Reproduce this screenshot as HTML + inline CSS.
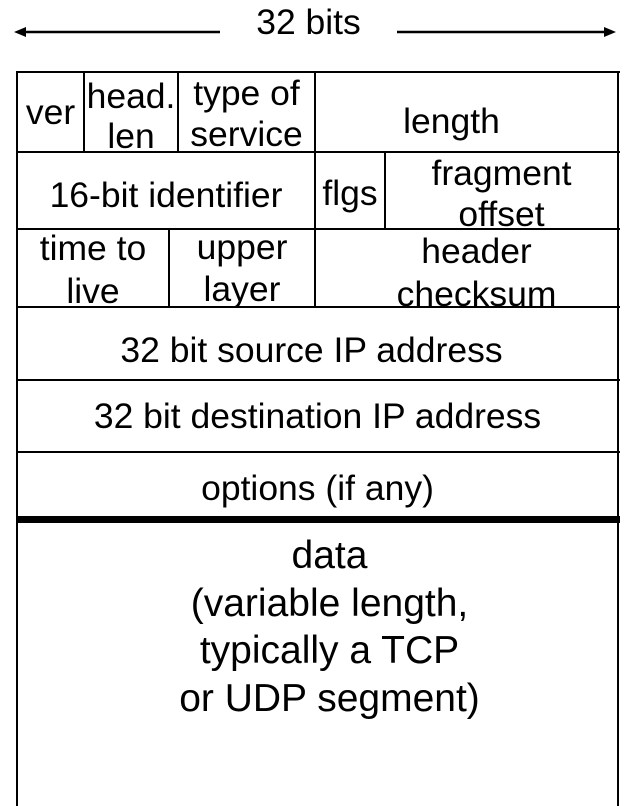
<!DOCTYPE html>
<html><head><style>
body{margin:0;background:#fff;}
#c{position:relative;width:640px;height:806px;overflow:hidden;font-family:"Liberation Sans",Arial,sans-serif;color:#000;}
.h{position:absolute;height:2px;background:#000;}
.v{position:absolute;width:2px;background:#000;}
.t{position:absolute;font-size:35.5px;line-height:42px;text-align:center;white-space:nowrap;overflow:hidden;}
</style></head><body><div id="c">
<svg width="640" height="60" style="position:absolute;left:0;top:0">
<line x1="18" y1="32" x2="220" y2="32" stroke="#000" stroke-width="2.5"/>
<polygon points="14,32 26,27 26,37" fill="#000"/>
<line x1="397" y1="32" x2="610" y2="32" stroke="#000" stroke-width="2.5"/>
<polygon points="616,32 604,27 604,37" fill="#000"/>
</svg>
<div class="t" style="left:210px;width:197px;top:1px">32 bits</div>
<div class="h" style="left:16px;width:604px;top:71px"></div>
<div class="v" style="left:16px;top:71px;height:735px"></div>
<div class="v" style="left:617px;top:71px;height:735px"></div>
<div class="h" style="left:16px;width:604px;top:151px"></div>
<div class="h" style="left:16px;width:604px;top:228px"></div>
<div class="h" style="left:16px;width:604px;top:306px"></div>
<div class="h" style="left:16px;width:604px;top:379px"></div>
<div class="h" style="left:16px;width:604px;top:451px"></div>
<div class="h" style="left:16px;width:604px;top:516px;height:7px"></div>
<div class="v" style="left:83px;top:73px;height:79px"></div>
<div class="v" style="left:177px;top:73px;height:79px"></div>
<div class="v" style="left:314px;top:73px;height:234px"></div>
<div class="v" style="left:384px;top:152px;height:77px"></div>
<div class="v" style="left:168px;top:229px;height:78px"></div>
<div class="t" style="left:18px;width:65px;top:91px">ver</div>
<div class="t" style="left:85px;width:92px;top:76px;height:75px;line-height:40px">head.<br>len</div>
<div class="t" style="left:179px;width:135px;top:73px;height:78px;line-height:41px">type of<br>service</div>
<div class="t" style="left:316px;width:271px;top:100px">length</div>
<div class="t" style="left:18px;width:296px;top:174px">16-bit identifier</div>
<div class="t" style="left:316px;width:68px;top:172px">flgs</div>
<div class="t" style="left:386px;width:231px;top:153px;height:75px;line-height:41px">fragment<br>offset</div>
<div class="t" style="left:18px;width:150px;top:227px;height:79px;line-height:43px">time to<br>live</div>
<div class="t" style="left:170px;width:144px;top:226px;height:80px;line-height:42px">upper<br>layer</div>
<div class="t" style="left:316px;width:321px;top:230px;height:76px;line-height:43px">header<br>checksum</div>
<div class="t" style="left:18px;width:587px;top:329px">32 bit source IP address</div>
<div class="t" style="left:18px;width:599px;top:395px">32 bit destination IP address</div>
<div class="t" style="left:18px;width:599px;top:467px">options (if any)</div>
<div class="t" style="left:30px;width:599px;top:532px;line-height:47.5px;font-size:39px">data<br>(variable length,<br>typically a TCP<br>or UDP segment)</div>
</div></body></html>
